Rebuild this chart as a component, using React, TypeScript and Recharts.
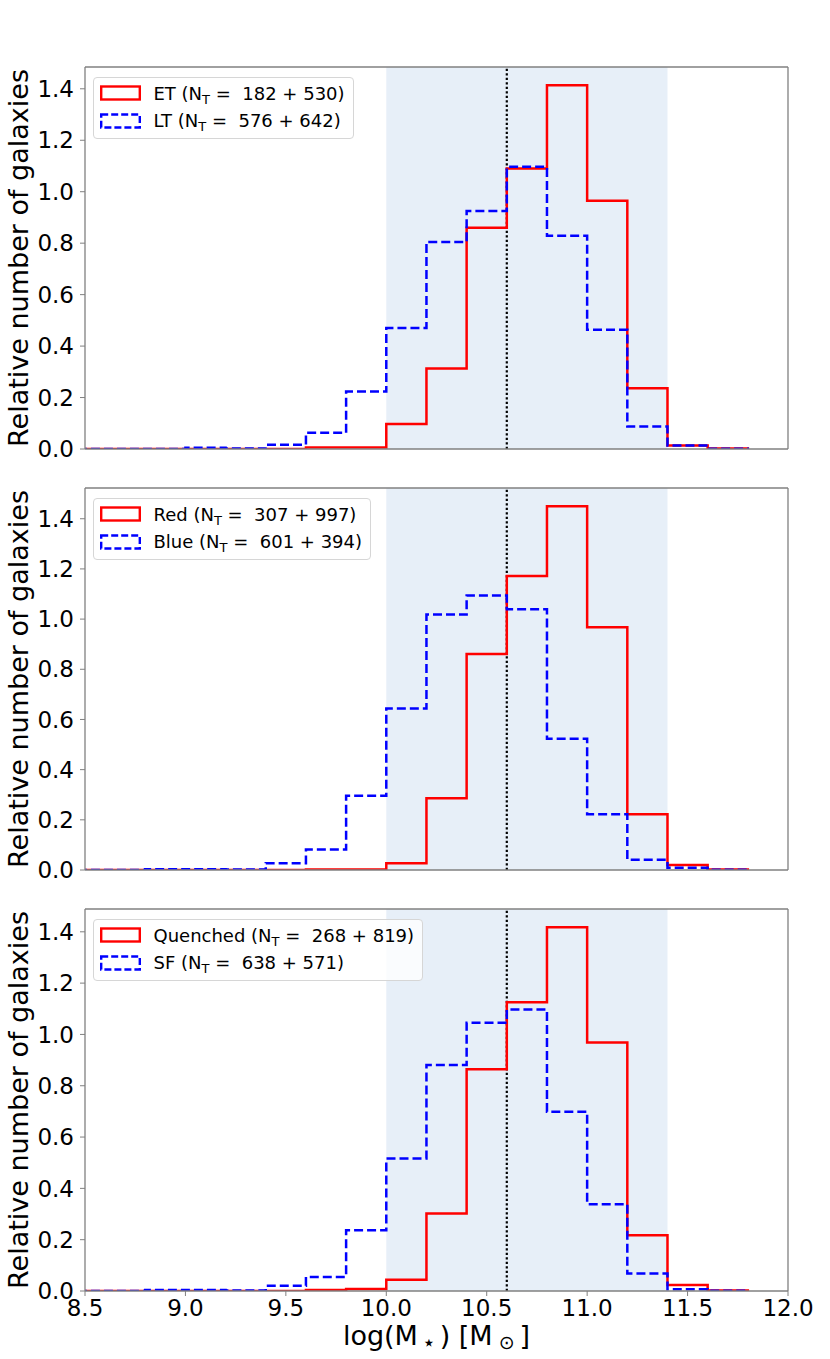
import React from "react";
import { LineChart, Line, XAxis, YAxis, ReferenceArea, ReferenceLine, Legend } from "recharts";

// left edges of the 0.2 dex mass bins, last bin closes at binEnd
const binStarts = [8.4, 8.6, 8.8, 9.0, 9.2, 9.4, 9.6, 9.8, 10.0, 10.2, 10.4, 10.6, 10.8, 11.0, 11.2, 11.4, 11.6];
const binEnd = 11.8;

// morphology
const etHist = [0, 0, 0, 0, 0, 0, 0.006, 0.006, 0.097, 0.313, 0.86, 1.09, 1.414, 0.965, 0.236, 0.014, 0.002];
const ltHist = [0, 0, 0, 0.005, 0.002, 0.017, 0.063, 0.223, 0.47, 0.805, 0.925, 1.097, 0.829, 0.463, 0.087, 0.014, 0.001];

// colour
const redHist = [0, 0, 0, 0, 0, 0, 0.002, 0.002, 0.027, 0.286, 0.861, 1.172, 1.45, 0.968, 0.222, 0.02, 0.002];
const blueHist = [0, 0, 0.003, 0.003, 0.002, 0.027, 0.082, 0.296, 0.644, 1.018, 1.094, 1.039, 0.523, 0.222, 0.041, 0.009, 0.001];

// star formation
const quenchedHist = [0, 0, 0, 0, 0, 0, 0.004, 0.008, 0.044, 0.302, 0.864, 1.125, 1.418, 0.969, 0.217, 0.023, 0.002];
const sfHist = [0, 0, 0.004, 0.004, 0.002, 0.02, 0.055, 0.237, 0.516, 0.881, 1.046, 1.097, 0.699, 0.338, 0.068, 0.007, 0.001];

const xTicks = [8.5, 9.0, 9.5, 10.0, 10.5, 11.0, 11.5, 12.0];
const yTicks = [0, 0.2, 0.4, 0.6, 0.8, 1.0, 1.2, 1.4];
const xDomain = [8.5, 12.0];
const shadeRange = [10.0, 11.4];
const splitMass = 10.6;

const panels = [
  { red: etHist, blue: ltHist, redLabel: "ET", blueLabel: "LT", redN: "182 + 530", blueN: "576 + 642" },
  { red: redHist, blue: blueHist, redLabel: "Red", blueLabel: "Blue", redN: "307 + 997", blueN: "601 + 394" },
  { red: quenchedHist, blue: sfHist, redLabel: "Quenched", blueLabel: "SF", redN: "268 + 819", blueN: "638 + 571" },
];

const GRAY = "#808080";
const PLOT_H = 382;
const TOP_PAD = 30;
const panelTops = [37, 458, 879];

function LegendRow({ dashed, color, label, n }: { dashed?: boolean; color: string; label: string; n: string }) {
  return (
    <div style={{ display: "flex", alignItems: "center", height: 27.3 }}>
      <svg width={41} height={16} style={{ marginRight: 13 }}>
        <rect x={1.2} y={1.5} width={38.6} height={13} fill="none" stroke={color} strokeWidth={2.4}
          strokeDasharray={dashed ? "7 3" : undefined} />
      </svg>
      <span style={{ whiteSpace: "pre" }}>
        {label} (N<span style={{ fontSize: 13, position: "relative", top: 4 }}>T</span>{" =  " + n + ")"}
      </span>
    </div>
  );
}

function yLabel(props: any) {
  const vb = props.viewBox ?? { x: 0, y: TOP_PAD, width: 85, height: PLOT_H };
  const cy = vb.y + vb.height / 2;
  return (
    <text x={27.5} y={cy} transform={`rotate(-90, 27.5, ${cy})`} textAnchor="middle" fontSize={27} fill="#000">
      Relative number of galaxies
    </text>
  );
}

function xLabel(props: any) {
  const vb = props.viewBox ?? { x: 85, y: TOP_PAD + PLOT_H, width: 703, height: 68 };
  const cx = vb.x + vb.width / 2;
  return (
    <text x={cx} y={vb.y + 54} textAnchor="middle" fontSize={27} fill="#000">
      log(M
      <tspan fontSize={22} dx={4} dy={5}>⋆</tspan>
      <tspan dx={4} dy={-5}>) [M</tspan>
      <tspan fontSize={19} dx={6} dy={4}>⊙</tspan>
      <tspan dx={5} dy={-4}>]</tspan>
    </text>
  );
}

function Panel({ idx }: { idx: number }) {
  const p = panels[idx];
  const last = idx === panels.length - 1;
  const data = binStarts
    .map((x, i) => ({ x, red: p.red[i], blue: p.blue[i] }))
    .concat([{ x: binEnd, red: 0, blue: 0 }]);
  const yMax = Math.max(...p.red, ...p.blue) * 1.05;
  const axisH = last ? 68 : 16;

  return (
    <div style={{ position: "absolute", left: 0, top: panelTops[idx] }}>
      <LineChart width={830} height={TOP_PAD + PLOT_H + axisH} data={data}
        margin={{ top: TOP_PAD, right: 42, bottom: 0, left: 0 }}>
        <ReferenceArea x1={shadeRange[0]} x2={shadeRange[1]} fill="#e7eff8" fillOpacity={1} stroke="none" />
        <XAxis dataKey="x" type="number" domain={xDomain} ticks={xTicks} allowDataOverflow interval={0}
          height={axisH} tickSize={5} tickMargin={4}
          tick={last ? { fill: "#000", fontSize: 23 } : false}
          tickFormatter={(v: number) => v.toFixed(1)}
          tickLine={{ stroke: GRAY }} axisLine={{ stroke: GRAY, strokeWidth: 1.3 }}
          label={last ? xLabel : undefined} />
        <YAxis type="number" domain={[0, yMax]} ticks={yTicks} allowDataOverflow interval={0} width={85}
          tickSize={5} tickMargin={6} tick={{ fill: "#000", fontSize: 23 }}
          tickFormatter={(v: number) => v.toFixed(1)}
          tickLine={{ stroke: GRAY }} axisLine={{ stroke: GRAY, strokeWidth: 1.3 }}
          label={yLabel} />
        <ReferenceLine x={splitMass} stroke="#000" strokeWidth={2.2} strokeDasharray="2.2 2.3" />
        <Line type="stepAfter" dataKey="red" stroke="#ff0000" strokeWidth={2.5} strokeLinejoin="miter"
          dot={false} activeDot={false} isAnimationActive={false} />
        <Line type="stepAfter" dataKey="blue" stroke="#0000ff" strokeWidth={2.5} strokeDasharray="9 4"
          strokeLinejoin="miter" dot={false} activeDot={false} isAnimationActive={false} />
        <ReferenceLine y={yMax} stroke={GRAY} strokeWidth={1.3} />
        <ReferenceLine x={xDomain[1]} stroke={GRAY} strokeWidth={1.3} />
        <Legend layout="horizontal" verticalAlign="middle" align="center"
          wrapperStyle={{ left: 92.5, top: TOP_PAD + 9.7, width: "auto", height: "auto" }}
          content={() => (
            <div style={{
              border: "1px solid #d6d6d6", borderRadius: 4, background: "rgba(255,255,255,0.8)",
              padding: "2px 8px 4px 6px", fontSize: 18, color: "#000", fontFamily: "DejaVu Sans",
            }}>
              <LegendRow color="#ff0000" label={p.redLabel} n={p.redN} />
              <LegendRow dashed color="#0000ff" label={p.blueLabel} n={p.blueN} />
            </div>
          )} />
      </LineChart>
    </div>
  );
}

export default function App() {
  return (
    <div style={{ position: "absolute", left: 0, top: 0, width: 830, height: 1359, background: "#fff", fontFamily: "DejaVu Sans" }}>
      {panels.map((_, i) => (
        <Panel key={i} idx={i} />
      ))}
    </div>
  );
}
